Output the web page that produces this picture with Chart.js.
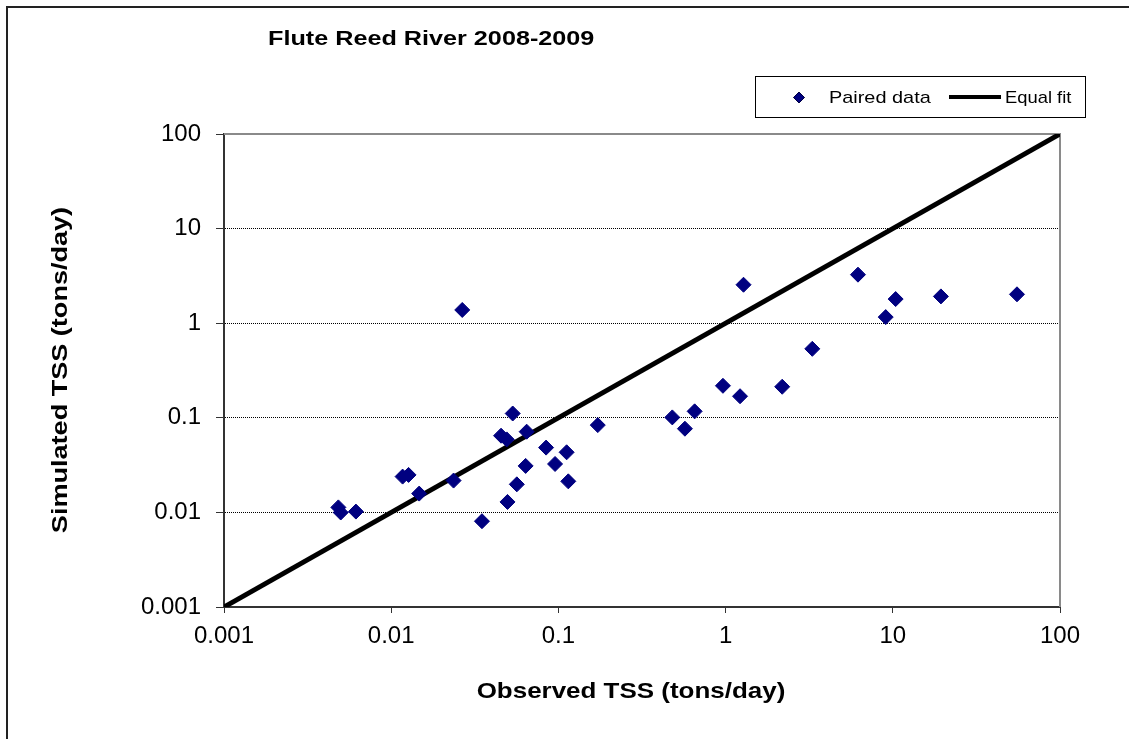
<!DOCTYPE html>
<html>
<head>
<meta charset="utf-8">
<title>Flute Reed River 2008-2009</title>
<script src="https://cdn.jsdelivr.net/npm/chart.js@4/dist/chart.umd.min.js"></script>
<style>
  html, body { margin: 0; padding: 0; background: #fff; }
  canvas { display: block; }
</style>
</head>
<body>
<canvas id="chart" width="1129" height="739"></canvas>
<script>
"use strict"

// observed vs simulated TSS (tons/day)
const observedTSS = [
    0.00483, 0.00499, 0.00615, 0.0117, 0.0127, 0.0147, 0.0236, 0.0266, 0.0349,
    0.0454, 0.0491, 0.0496, 0.0533, 0.0564, 0.0637, 0.0646, 0.0844, 0.0955,
    0.112, 0.1146, 0.172, 0.48, 0.571, 0.653, 0.964, 1.22, 1.28, 2.18, 3.30,
    6.19, 9.07, 10.4, 19.4, 55.3
];
const simulatedTSS = [
    0.0113, 0.00997, 0.0102, 0.0239, 0.0249, 0.0158, 0.0217, 1.38, 0.00807,
    0.0647, 0.0591, 0.0129, 0.111, 0.0198, 0.031, 0.0713, 0.0484, 0.0325,
    0.0432, 0.0213, 0.0837, 0.101, 0.0767, 0.117, 0.218, 0.169, 2.55, 0.213, 0.536,
    3.26, 1.16, 1.80, 1.92, 2.02
];

// 1:1 line
const equalFitX = [0.001, 100];
const equalFitY = [0.001, 100];

const tickValues = [0.001, 0.01, 0.1, 1, 10, 100];
const tickLabels = ["0.001", "0.01", "0.1", "1", "10", "100"];

const chartTitle = "Flute Reed River 2008-2009";
const xTitle = "Observed TSS (tons/day)";
const yTitle = "Simulated TSS (tons/day)";

const FONT = '"Liberation Sans", Arial, sans-serif';
const NAVY = "#000080";

// text in the original is a bit wider than plain Arial, stretch it
function stretchedText(ctx, text, x, y, font, sx, align, rot) {
    ctx.save();
    ctx.translate(x, y);
    if (rot) ctx.rotate(rot);
    ctx.scale(sx, 1);
    ctx.font = font;
    ctx.fillStyle = "#000";
    ctx.textAlign = align;
    ctx.textBaseline = "alphabetic";
    ctx.fillText(text, 0, 0);
    ctx.restore();
}

const decorations = {
    id: "decorations",
    beforeDraw(chart) {
        const ctx = chart.ctx;
        ctx.save();
        ctx.fillStyle = "#fff";
        ctx.fillRect(0, 0, chart.width, chart.height);
        // outer frame (only top and left show)
        ctx.strokeStyle = "#222";
        ctx.lineWidth = 2;
        ctx.beginPath();
        ctx.moveTo(7, chart.height);
        ctx.lineTo(7, 7);
        ctx.lineTo(chart.width, 7);
        ctx.stroke();
        ctx.restore();
    },
    beforeDatasetsDraw(chart) {
        // grey top/right edges of the plot area
        const ctx = chart.ctx;
        const a = chart.chartArea;
        ctx.save();
        ctx.strokeStyle = "#8a8a8a";
        ctx.lineWidth = 2;
        ctx.beginPath();
        ctx.moveTo(a.left, a.top);
        ctx.lineTo(a.right, a.top);
        ctx.lineTo(a.right, a.bottom);
        ctx.stroke();
        ctx.restore();
    },
    afterDraw(chart) {
        const ctx = chart.ctx;
        const ds = chart.data.datasets;

        stretchedText(ctx, chartTitle, 268, 45, "bold 20px " + FONT, 1.26, "left", 0);
        stretchedText(ctx, xTitle, 631, 698, "bold 22px " + FONT, 1.18, "center", 0);
        stretchedText(ctx, yTitle, 67, 370, "bold 22px " + FONT, 1.23, "center", -Math.PI / 2);

        // legend box
        ctx.save();
        ctx.strokeStyle = "#000";
        ctx.lineWidth = 1;
        ctx.strokeRect(755.5, 76.5, 330, 41);
        Chart.helpers.drawPoint(ctx, {
            pointStyle: "rectRot", radius: 5.5, rotation: 0, borderWidth: 1
        }, 799, 97.5);
        ctx.fillStyle = NAVY;
        ctx.strokeStyle = NAVY;
        ctx.beginPath();
        ctx.moveTo(793.5, 97.5);
        ctx.lineTo(799, 92);
        ctx.lineTo(804.5, 97.5);
        ctx.lineTo(799, 103);
        ctx.closePath();
        ctx.fill();
        ctx.strokeStyle = "#000";
        ctx.lineWidth = 4;
        ctx.beginPath();
        ctx.moveTo(949, 97);
        ctx.lineTo(1001, 97);
        ctx.stroke();
        ctx.restore();
        stretchedText(ctx, ds[0].label, 829, 103, "17px " + FONT, 1.17, "left", 0);
        stretchedText(ctx, ds[1].label, 1005, 103, "17px " + FONT, 1.08, "left", 0);
    }
};

const pairedPoints = observedTSS.map((v, i) => ({ x: v, y: simulatedTSS[i] }));
const fitPoints = equalFitX.map((v, i) => ({ x: v, y: equalFitY[i] }));

function powerTicks(scale) {
    scale.ticks = tickValues.map(v => ({ value: v }));
}
function tickText(value) {
    const i = tickValues.indexOf(value);
    return i >= 0 ? tickLabels[i] : "";
}

new Chart(document.getElementById("chart"), {
    type: "scatter",
    data: {
        datasets: [
            {
                label: "Paired data",
                data: pairedPoints,
                pointStyle: "rectRot",
                pointRadius: 7.5,
                pointBorderWidth: 1,
                backgroundColor: NAVY,
                borderColor: NAVY
            },
            {
                type: "line",
                label: "Equal fit",
                data: fitPoints,
                borderColor: "#000",
                borderWidth: 5,
                pointRadius: 0,
                fill: false
            }
        ]
    },
    options: {
        responsive: false,
        animation: false,
        devicePixelRatio: 1,
        layout: { padding: { top: 134, right: 69, left: 0, bottom: 0 } },
        plugins: {
            legend: { display: false },
            title: { display: false },
            tooltip: { enabled: false }
        },
        scales: {
            x: {
                type: "logarithmic",
                min: 0.001,
                max: 100,
                afterBuildTicks: powerTicks,
                afterFit: s => { s.height = 132; },
                grid: {
                    drawOnChartArea: false,
                    tickLength: 6,
                    tickColor: "#333"
                },
                border: { color: "#333", width: 2 },
                ticks: {
                    callback: tickText,
                    autoSkip: false,
                    maxRotation: 0,
                    padding: 9,
                    color: "#000",
                    font: { family: FONT, size: 24 }
                }
            },
            y: {
                type: "logarithmic",
                min: 0.001,
                max: 100,
                afterBuildTicks: powerTicks,
                afterFit: s => { s.width = 224; },
                grid: {
                    color: "#000",
                    lineWidth: 1,
                    tickLength: 8,
                    tickColor: "#333"
                },
                border: { color: "#333", width: 2, dash: [1, 1] },
                ticks: {
                    callback: tickText,
                    autoSkip: false,
                    padding: 15,
                    color: "#000",
                    font: { family: FONT, size: 24 }
                }
            }
        }
    },
    plugins: [decorations]
});
</script>
</body>
</html>
